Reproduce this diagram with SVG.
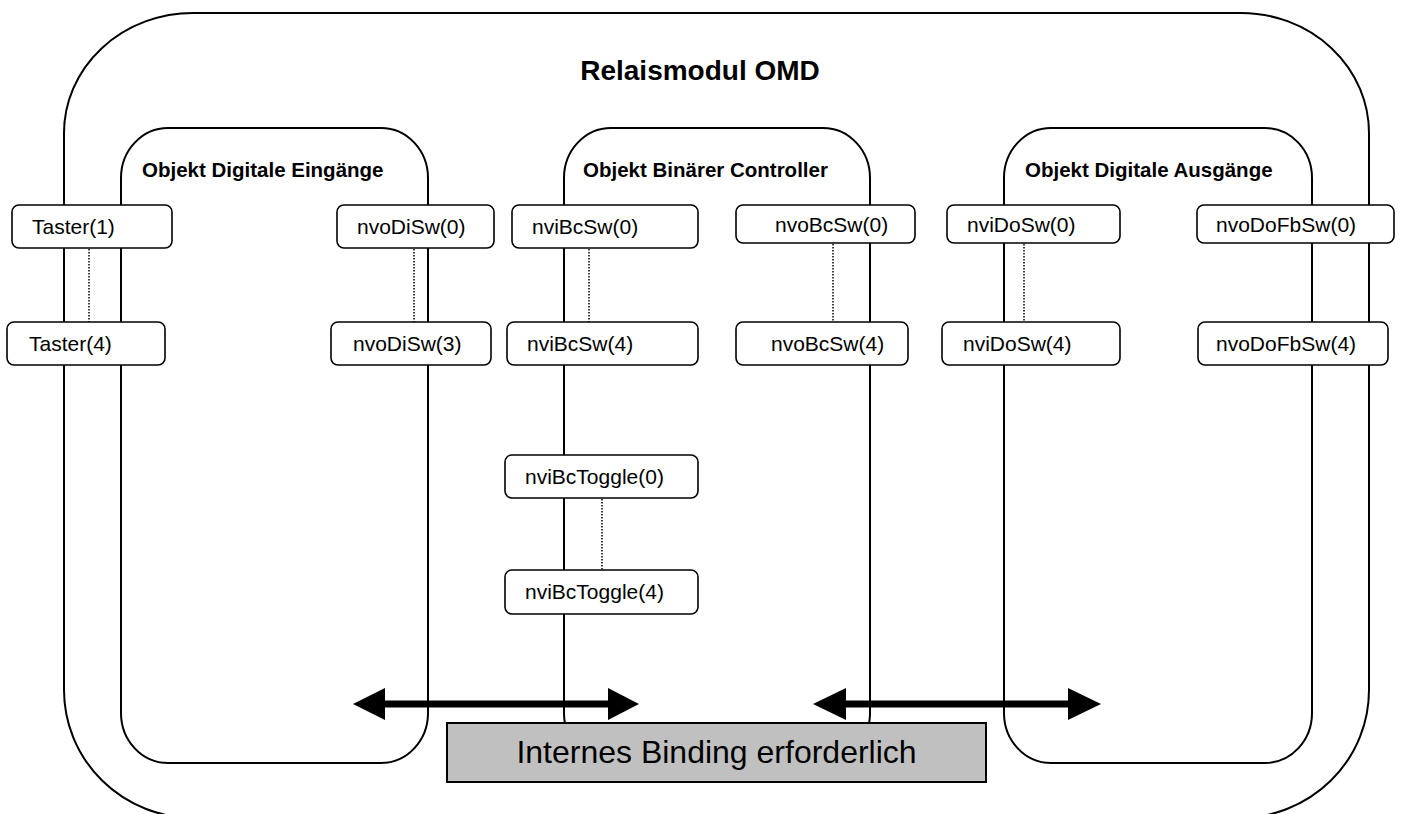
<svg xmlns="http://www.w3.org/2000/svg" width="1401" height="814" viewBox="0 0 1401 814">
<style>
.frame{fill:none;stroke:#000;stroke-width:2}
.node rect{fill:#fff;stroke:#000;stroke-width:1.6}
.node text{font-family:"Liberation Sans",Arial,sans-serif;font-size:21px;fill:#000}
.title{font-family:"Liberation Sans",Arial,sans-serif;font-weight:bold;fill:#000}
.dot{stroke:#000;stroke-width:1.5;stroke-dasharray:1.5 1.5;fill:none}
.shaft{stroke:#000;stroke-width:7;fill:none}
.head{fill:#000}
</style>
<rect width="1401" height="814" fill="#fff"/>
<g id="outer">
<path class="frame" d="M 193 13 H 1241 A 128 120 0 0 1 1369 133 V 690 A 130 128 0 0 1 1239 818 H 194 A 130 128 0 0 1 64 690 V 133 A 129 120 0 0 1 193 13 Z"/>
<text class="title" x="700" y="80" font-size="28" text-anchor="middle">Relaismodul OMD</text>
</g>
<g id="obj-eingaenge">
<rect class="frame" x="121" y="128" width="307" height="635" rx="47" ry="50"/>
<text class="title" x="142" y="177" font-size="20.5">Objekt Digitale Eingänge</text>
</g>
<g id="obj-controller">
<rect class="frame" x="564" y="128" width="306" height="635" rx="47" ry="50"/>
<text class="title" x="583" y="177" font-size="20.5">Objekt Binärer Controller</text>
</g>
<g id="obj-ausgaenge">
<rect class="frame" x="1004" y="128" width="308" height="635" rx="47" ry="50"/>
<text class="title" x="1025" y="177" font-size="20.5">Objekt Digitale Ausgänge</text>
</g>
<g id="connectors">
<line class="dot" x1="89" y1="249" x2="89" y2="322"/>
<line class="dot" x1="414" y1="249" x2="414" y2="322"/>
<line class="dot" x1="589" y1="249" x2="589" y2="322"/>
<line class="dot" x1="833" y1="244" x2="833" y2="322"/>
<line class="dot" x1="1024" y1="244" x2="1024" y2="322"/>
<line class="dot" x1="602" y1="499" x2="602" y2="570"/>
<line class="shaft" x1="383" y1="704" x2="610" y2="704"/>
<polygon class="head" points="353,704 385,688 385,720"/>
<polygon class="head" points="639,704 608,688 608,720"/>
<line class="shaft" x1="844" y1="704" x2="1070" y2="704"/>
<polygon class="head" points="813,704 846,688 846,720"/>
<polygon class="head" points="1101,704 1068,688 1068,720"/>
</g>
<g id="n-taster1" class="node"><rect x="12" y="205" width="160" height="43" rx="7"/><text x="32" y="234">Taster(1)</text></g>
<g id="n-taster4" class="node"><rect x="7" y="322" width="158" height="43" rx="7"/><text x="29" y="351">Taster(4)</text></g>
<g id="n-nvoDiSw0" class="node"><rect x="337" y="205" width="157" height="43" rx="7"/><text x="357" y="234">nvoDiSw(0)</text></g>
<g id="n-nvoDiSw3" class="node"><rect x="331" y="322" width="160" height="43" rx="7"/><text x="353" y="351">nvoDiSw(3)</text></g>
<g id="n-nviBcSw0" class="node"><rect x="512" y="205" width="186" height="43" rx="7"/><text x="532" y="234">nviBcSw(0)</text></g>
<g id="n-nviBcSw4" class="node"><rect x="507" y="322" width="191" height="43" rx="7"/><text x="527" y="351">nviBcSw(4)</text></g>
<g id="n-nvoBcSw0" class="node"><rect x="736" y="205" width="179" height="38" rx="7"/><text x="775" y="232">nvoBcSw(0)</text></g>
<g id="n-nvoBcSw4" class="node"><rect x="736" y="322" width="172" height="43" rx="7"/><text x="771" y="351">nvoBcSw(4)</text></g>
<g id="n-nviDoSw0" class="node"><rect x="947" y="205" width="173" height="38" rx="7"/><text x="967" y="232">nviDoSw(0)</text></g>
<g id="n-nviDoSw4" class="node"><rect x="942" y="322" width="178" height="43" rx="7"/><text x="963" y="351">nviDoSw(4)</text></g>
<g id="n-nvoDoFbSw0" class="node"><rect x="1197" y="205" width="197" height="38" rx="7"/><text x="1216" y="232">nvoDoFbSw(0)</text></g>
<g id="n-nvoDoFbSw4" class="node"><rect x="1198" y="322" width="190" height="43" rx="7"/><text x="1216" y="351">nvoDoFbSw(4)</text></g>
<g id="n-nviBcToggle0" class="node"><rect x="505" y="455" width="193" height="43" rx="7"/><text x="525" y="484">nviBcToggle(0)</text></g>
<g id="n-nviBcToggle4" class="node"><rect x="505" y="570" width="193" height="44" rx="7"/><text x="525" y="599">nviBcToggle(4)</text></g>
<g id="n-binding">
<rect x="447" y="723" width="539" height="59" fill="#c0c0c0" stroke="#000" stroke-width="2"/>
<text x="716.5" y="763" font-family="'Liberation Sans', Arial, sans-serif" font-size="32" text-anchor="middle" fill="#000">Internes Binding erforderlich</text>
</g>
</svg>
